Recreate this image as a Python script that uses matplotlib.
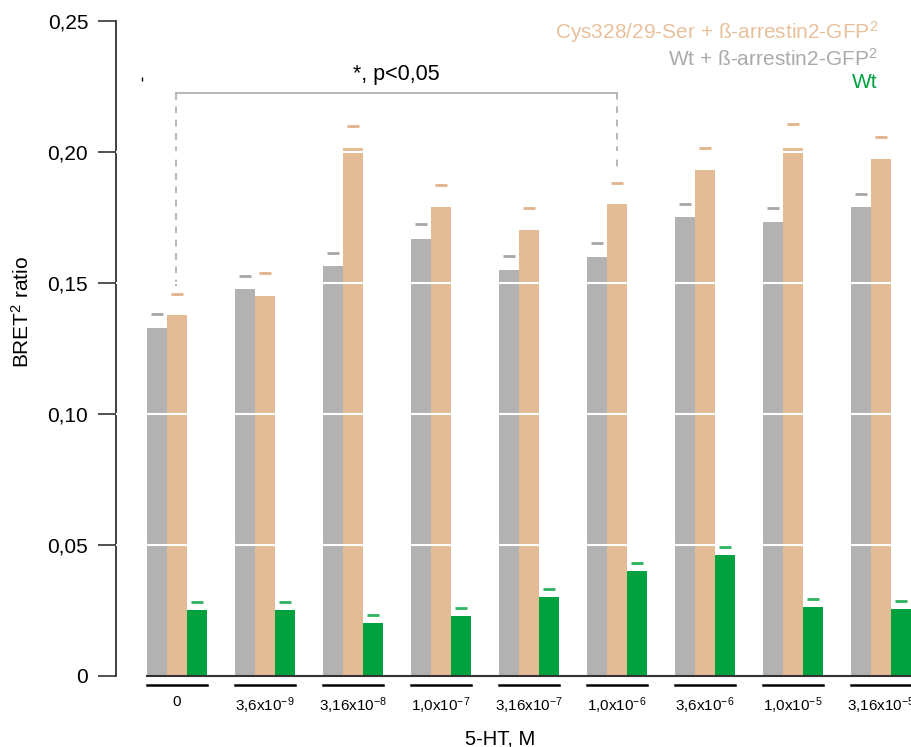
import matplotlib
matplotlib.use("Agg")
import matplotlib.pyplot as plt
import numpy as np

plt.rcParams['font.family'] = ['Liberation Sans', 'DejaVu Sans']
plt.rcParams['mathtext.fontset'] = 'custom'
plt.rcParams['mathtext.rm'] = 'Liberation Sans'
plt.rcParams['mathtext.it'] = 'Liberation Sans'

# 5-HT concentrations
doses = ["0", "3,6x10$^{-9}$", "3,16x10$^{-8}$", "1,0x10$^{-7}$", "3,16x10$^{-7}$",
         "1,0x10$^{-6}$", "3,6x10$^{-6}$", "1,0x10$^{-5}$", "3,16x10$^{-5}$"]

# BRET2 ratio (mean) and error
wt_arr = [0.1328, 0.1477, 0.1565, 0.1668, 0.1550, 0.1599, 0.1752, 0.1733, 0.1790]
wt_arr_err = [0.0051, 0.0050, 0.0050, 0.0055, 0.0053, 0.0054, 0.0050, 0.0051, 0.0051]
cys_arr = [0.1378, 0.1450, 0.2016, 0.1790, 0.1702, 0.1802, 0.1931, 0.2016, 0.1973]
cys_arr_err = [0.0081, 0.0086, 0.0084, 0.0083, 0.0082, 0.0081, 0.0082, 0.0092, 0.0085]
wt = [0.0249, 0.0249, 0.0200, 0.0226, 0.0299, 0.0398, 0.0460, 0.0260, 0.0253]
wt_err = [0.0031, 0.0031, 0.0031, 0.0030, 0.0030, 0.0032, 0.0030, 0.0032, 0.0032]

c_gray = "#b2b2b2"
c_tan = "#e3bc95"
c_green = "#00a23f"

fig = plt.figure(figsize=(9.11, 7.47), dpi=100)
ax = fig.add_axes([116 / 911, 1 - 675.5 / 747, 1 - 116 / 911, (675.5 - 21) / 747])

x = np.arange(len(doses))
w = 0.225
series = [(wt_arr, wt_arr_err, c_gray, "#a6a6a6", -w),
          (cys_arr, cys_arr_err, c_tan, "#e0b38a", 0),
          (wt, wt_err, c_green, "#2bb35f", w)]
for vals, errs, col, capcol, off in series:
    ax.bar(x + off, vals, width=w, color=col, zorder=2)
    tops = np.array(vals) + np.array(errs)
    ax.plot(x + off, tops, ls="none", marker="_", ms=9, mew=2, color=capcol, zorder=3)

# white gridlines across the bars
for g in [0.05, 0.10, 0.15, 0.20]:
    ax.axhline(g, color="white", lw=1.5, zorder=4)

# baseline
ax.plot([x[0] - 1.5 * w, x[-1] + 2 * w], [0, 0], color="#333333", lw=1.5, zorder=5, clip_on=False)
# group underlines
for xi in x:
    ax.plot([xi - 1.5 * w, xi + 1.5 * w], [-0.0037, -0.0037], color="black", lw=1.8, clip_on=False)

ax.set_xlim(-0.693, 8.341)
ax.set_ylim(0, 0.25)
ax.set_xticks(x)
ax.set_xticklabels(doses, fontsize=11)
ax.tick_params(axis="x", length=0, pad=14)
ax.set_yticks([0, 0.05, 0.10, 0.15, 0.20, 0.25])
ax.set_yticklabels(["0", "0,05", "0,10", "0,15", "0,20", "0,25"], fontsize=15)
ax.tick_params(axis="y", length=13, width=1.2, color="#333333", pad=7)

for s in ["top", "right", "bottom"]:
    ax.spines[s].set_visible(False)
ax.spines["left"].set_linewidth(1.3)
ax.spines["left"].set_color("#333333")

# significance bracket
ax.plot([-0.015, 5], [0.2225, 0.2225], color="#aaaaaa", lw=1.2, clip_on=False)
ax.plot([-0.015, -0.015], [0.2225, 0.1481], color="#aaaaaa", lw=1.2, ls=(0, (4, 4)))
ax.plot([5, 5], [0.2225, 0.192], color="#aaaaaa", lw=1.2, ls=(0, (4, 4)))
ax.text(2.49, 0.2295, "*, p<0,05", ha="center", va="center", fontsize=15.5)
ax.plot([-0.4], [0.2279], marker="|", ms=3, color="black")

# legend text
fig.text(878 / 911, 1 - 32 / 747, "Cys328/29-Ser + ß-arrestin2-GFP$^2$", color="#e8c09b",
         ha="right", va="center", fontsize=15)
fig.text(878 / 911, 1 - 59 / 747, "Wt + ß-arrestin2-GFP$^2$", color="#aaaaaa",
         ha="right", va="center", fontsize=15)
fig.text(878 / 911, 1 - 83 / 747, "Wt", color="#00a23f", ha="right", va="center", fontsize=15)

fig.text(22 / 911, 1 - 312 / 747, "BRET$^2$ ratio", rotation=90, ha="center", va="center", fontsize=15)
fig.text(500 / 911, 1 - 739 / 747, "5-HT, M", ha="center", va="center", fontsize=14.5)

fig.savefig("out.png", dpi=100)
